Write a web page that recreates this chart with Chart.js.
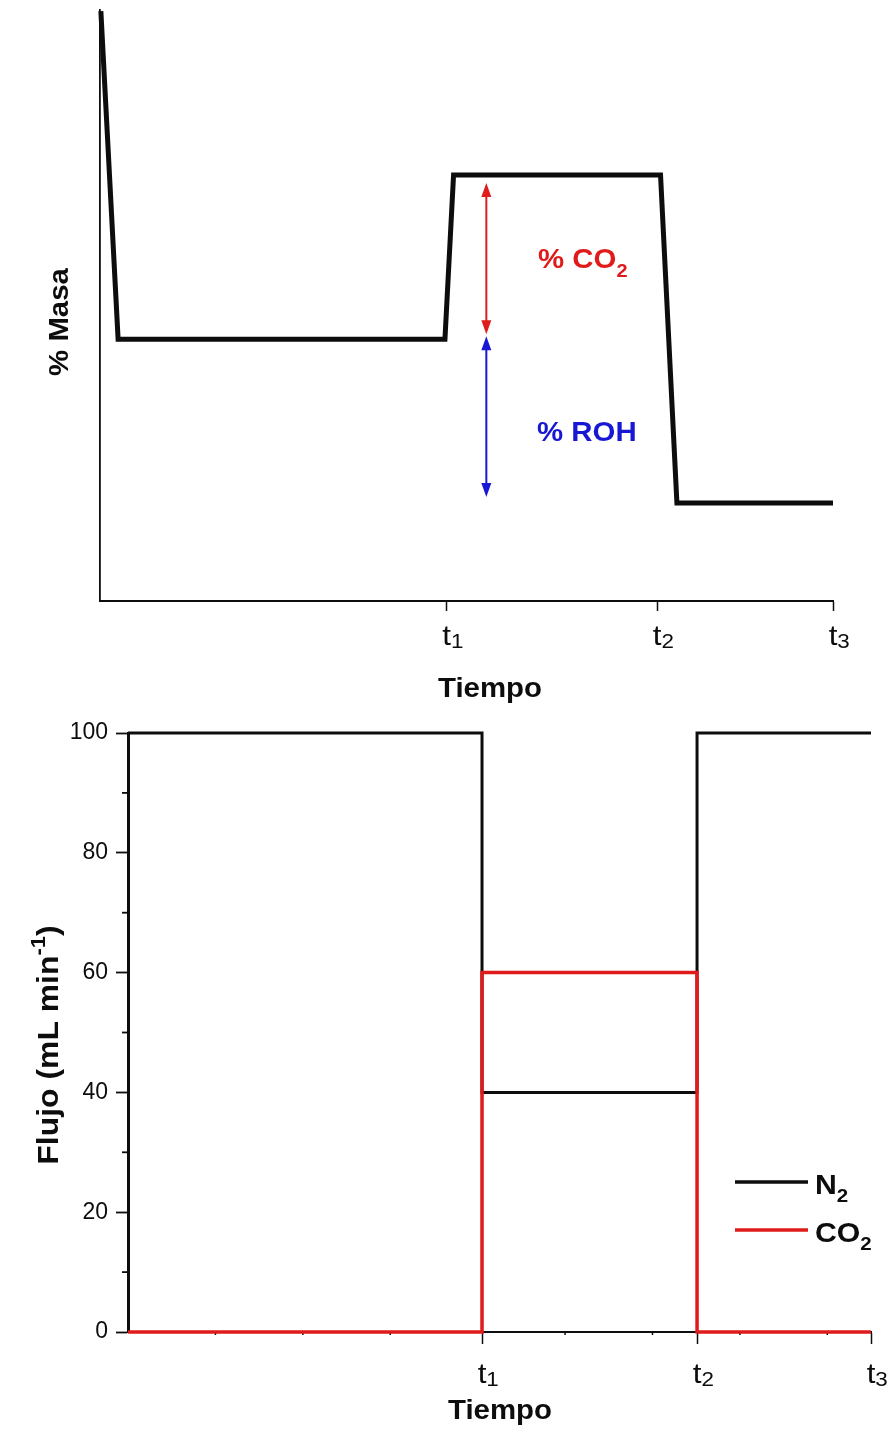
<!DOCTYPE html>
<html>
<head>
<meta charset="utf-8">
<title>% Masa y Flujo vs Tiempo</title>
<script src="https://cdn.jsdelivr.net/npm/chart.js@4.4.1/dist/chart.umd.min.js"></script>
<style>
  html, body { margin: 0; padding: 0; background: #ffffff; }
  canvas { display: block; }
</style>
</head>
<body>
<canvas id="mass" width="894" height="705"></canvas>
<canvas id="flow" width="894" height="728"></canvas>
<script>
// ---- data -------------------------------------------------------------
const timeTickBase = ['t', 't', 't'];
const timeTickSubs = ['1', '2', '3'];

// mass profile (arbitrary time units, % of initial mass)
const massTicks = [40.2, 64.6, 85];
const massTime  = [0.1, 2.1, 40.0, 41.0, 65.0, 66.9, 85];
const massPct   = [99.8, 44.3, 44.3, 72.1, 72.1, 16.6, 16.6];
const arrowTime = 44.8;

// gas feed (mL/min)
const flowTicks   = [40.5, 65.1, 85];
const flowTime    = [0, 40.5, 65.1, 85];
const n2Flow      = [100, 40, 100, 100];
const co2Flow     = [0, 60, 0, 0];
const flowMinorY  = [10, 30, 50, 70, 90];
const flowMinorX  = [10, 20, 30, 50, 60, 70, 80];
const seriesNames = ['N', 'CO'];
const seriesSubs  = ['2', '2'];

// ---- styling helpers --------------------------------------------------
const FONT = '"Liberation Sans", Arial, Helvetica, sans-serif';
const INK = '#0d0d0d';
const RED = '#df1b1b';
const BLUE = '#1717d4';
Chart.defaults.font.family = FONT;
Chart.defaults.color = INK;

// text with sub/superscripts, optionally rotated and widened
function richText(ctx, parts, x, y, o) {
  ctx.save();
  ctx.translate(x, y);
  if (o.rotate) ctx.rotate(o.rotate);
  ctx.scale(o.stretch || 1, 1);
  ctx.fillStyle = o.color || INK;
  ctx.textBaseline = 'alphabetic';
  ctx.textAlign = 'left';
  const fonts = parts.map(p => `${p.bold ? 'bold ' : ''}${p.size}px ${FONT}`);
  const widths = parts.map((p, i) => { ctx.font = fonts[i]; return ctx.measureText(p.text).width; });
  const total = widths.reduce((a, b) => a + b, 0);
  let cx = 0;
  if (o.align === 'center') cx = -total / 2;
  else if (o.align === 'right') cx = -total;
  else if (o.align === 'first') cx = -widths[0] / 2;
  parts.forEach((p, i) => { ctx.font = fonts[i]; ctx.fillText(p.text, cx, p.dy || 0); cx += widths[i]; });
  ctx.restore();
}

// short unlabeled ticks between the labelled ones
const minorTicks = {
  id: 'minorTicks',
  beforeDatasetsDraw(chart, args, opts) {
    const ctx = chart.ctx;
    ctx.save();
    ctx.strokeStyle = INK;
    (opts.sets || []).forEach(s => {
      const sc = chart.scales[s.axis];
      ctx.lineWidth = s.width;
      s.values.forEach(v => {
        const p = sc.getPixelForValue(v);
        ctx.beginPath();
        if (sc.isHorizontal()) { ctx.moveTo(p, sc.top); ctx.lineTo(p, sc.top + s.length); }
        else { ctx.moveTo(sc.right, p); ctx.lineTo(sc.right - s.length, p); }
        ctx.stroke();
      });
    });
    ctx.restore();
  }
};

// "t1, t2, t3" labels under the time axis
function drawTimeLabels(chart, values, baseline) {
  const sc = chart.scales.x;
  values.forEach((v, i) => {
    richText(chart.ctx, [
      { text: timeTickBase[i], size: 28 },
      { text: timeTickSubs[i], size: 20, dy: 3 }
    ], sc.getPixelForValue(v), baseline, { align: 'first', stretch: 1.12 });
  });
}

function arrow(ctx, x, y1, y2, color) {
  const head = 14, half = 5;
  ctx.save();
  ctx.strokeStyle = color; ctx.fillStyle = color; ctx.lineWidth = 2;
  ctx.beginPath(); ctx.moveTo(x, y1 + head - 2); ctx.lineTo(x, y2 - head + 2); ctx.stroke();
  ctx.beginPath(); ctx.moveTo(x, y1); ctx.lineTo(x - half, y1 + head); ctx.lineTo(x + half, y1 + head); ctx.closePath(); ctx.fill();
  ctx.beginPath(); ctx.moveTo(x, y2); ctx.lineTo(x - half, y2 - head); ctx.lineTo(x + half, y2 - head); ctx.closePath(); ctx.fill();
  ctx.restore();
}

// ---- top: mass vs time ------------------------------------------------
const massNotes = {
  id: 'massNotes',
  afterDatasetsDraw(chart) {
    const ctx = chart.ctx, xs = chart.scales.x, ys = chart.scales.y;
    const ax = xs.getPixelForValue(arrowTime);
    const high = massPct[3], low = massPct[1], final = massPct[5];
    arrow(ctx, ax, ys.getPixelForValue(high) + 8, ys.getPixelForValue(low) - 5, RED);
    arrow(ctx, ax, ys.getPixelForValue(low) - 3, ys.getPixelForValue(final) - 6, BLUE);

    richText(ctx, [{ text: '% CO', size: 28, bold: true }, { text: '2', size: 19, bold: true, dy: 9 }],
      538, 268, { color: RED, stretch: 1.05 });
    richText(ctx, [{ text: '% ROH', size: 28, bold: true }],
      537, 441, { color: BLUE, stretch: 1.05 });

    richText(ctx, [{ text: '% Masa', size: 28, bold: true }], 68, 322,
      { align: 'center', rotate: -Math.PI / 2, stretch: 1.05 });
    richText(ctx, [{ text: 'Tiempo', size: 28, bold: true }], 490, 697,
      { align: 'center', stretch: 1.05 });
    drawTimeLabels(chart, massTicks, 645);
  }
};

new Chart(document.getElementById('mass'), {
  type: 'line',
  data: {
    datasets: [{
      label: '% Masa',
      data: massTime.map((t, i) => ({ x: t, y: massPct[i] })),
      borderColor: INK,
      borderWidth: 5,
      borderJoinStyle: 'miter',
      pointRadius: 0,
      tension: 0,
      clip: false
    }]
  },
  options: {
    responsive: false,
    animation: false,
    events: [],
    layout: { padding: { left: 0, right: 61, top: 10, bottom: 0 } },
    plugins: { legend: { display: false }, tooltip: { enabled: false } },
    scales: {
      x: {
        type: 'linear', min: 0, max: 85,
        afterBuildTicks: s => { s.ticks = massTicks.map(v => ({ value: v })); },
        afterFit: s => { s.height = 104; },
        ticks: { display: false },
        grid: { display: true, drawOnChartArea: false, drawTicks: true, tickLength: 10, tickColor: INK, tickWidth: 1.5 },
        border: { display: true, color: INK, width: 2 }
      },
      y: {
        type: 'linear', min: 0, max: 100,
        afterFit: s => { s.width = 100; },
        ticks: { display: false },
        grid: { display: false, drawTicks: false },
        border: { display: true, color: INK, width: 1.8 }
      }
    }
  },
  plugins: [massNotes]
});

// ---- bottom: gas flow vs time -----------------------------------------
const flowNotes = {
  id: 'flowNotes',
  afterDatasetsDraw(chart) {
    const ctx = chart.ctx;
    drawTimeLabels(chart, flowTicks, 678);
    richText(ctx, [{ text: 'Tiempo', size: 28, bold: true }], 500, 714,
      { align: 'center', stretch: 1.05 });
    richText(ctx, [
      { text: 'Flujo (mL min', size: 29, bold: true },
      { text: '-1', size: 20, bold: true, dy: -13 },
      { text: ')', size: 29, bold: true }
    ], 58, 340, { align: 'center', rotate: -Math.PI / 2, stretch: 1.1 });

    // legend
    const rows = [477, 525];
    chart.data.datasets.forEach((ds, i) => {
      const y = rows[i];
      ctx.save();
      ctx.strokeStyle = ds.borderColor; ctx.lineWidth = 3.5;
      ctx.beginPath(); ctx.moveTo(735, y); ctx.lineTo(808, y); ctx.stroke();
      ctx.restore();
      richText(ctx, [
        { text: seriesNames[i], size: 28, bold: true },
        { text: seriesSubs[i], size: 19, bold: true, dy: 8 }
      ], 815, y + 12, { stretch: 1.08 });
    });
  }
};

new Chart(document.getElementById('flow'), {
  type: 'line',
  data: {
    datasets: [
      {
        label: 'N2',
        data: flowTime.map((t, i) => ({ x: t, y: n2Flow[i] })),
        borderColor: INK, borderWidth: 3, stepped: 'before',
        pointRadius: 0, clip: false, order: 2
      },
      {
        label: 'CO2',
        data: flowTime.map((t, i) => ({ x: t, y: co2Flow[i] })),
        borderColor: RED, borderWidth: 3.5, stepped: 'before',
        pointRadius: 0, clip: false, order: 1
      }
    ]
  },
  options: {
    responsive: false,
    animation: false,
    events: [],
    layout: { padding: { left: 0, right: 23, top: 28, bottom: 0 } },
    plugins: {
      legend: { display: false }, tooltip: { enabled: false },
      minorTicks: {
        sets: [
          { axis: 'y', values: flowMinorY, length: 6, width: 1.8 },
          { axis: 'x', values: flowMinorX, length: 3, width: 1.5 }
        ]
      }
    },
    scales: {
      x: {
        type: 'linear', min: 0, max: 85,
        afterBuildTicks: s => { s.ticks = flowTicks.map(v => ({ value: v })); },
        afterFit: s => { s.height = 101; },
        ticks: { display: false },
        grid: { display: true, drawOnChartArea: false, drawTicks: true, tickLength: 12, tickColor: INK, tickWidth: 1.5 },
        border: { display: true, color: INK, width: 2 }
      },
      y: {
        type: 'linear', min: 0, max: 100,
        afterFit: s => { s.width = 128; },
        ticks: { stepSize: 20, padding: 8, font: { size: 23 }, color: INK },
        grid: { display: true, drawOnChartArea: false, drawTicks: true, tickLength: 12, tickColor: INK, tickWidth: 1.8 },
        border: { display: true, color: INK, width: 3 }
      }
    }
  },
  plugins: [minorTicks, flowNotes]
});
</script>
</body>
</html>
